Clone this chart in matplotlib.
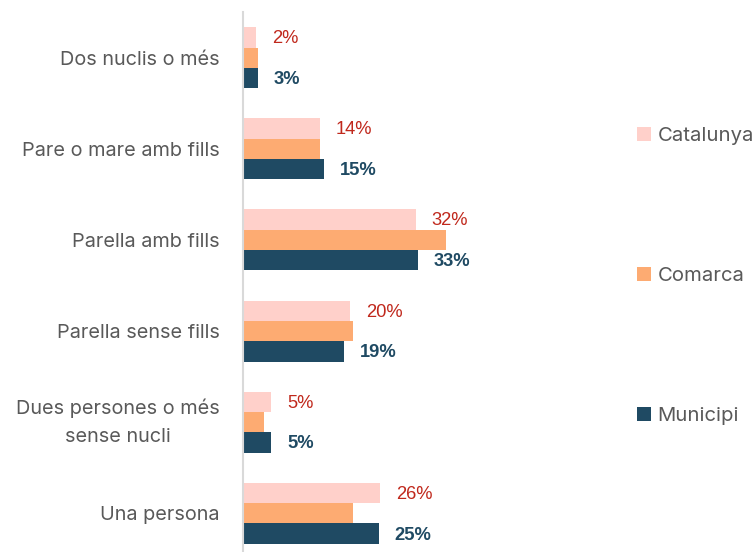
import matplotlib
matplotlib.use("Agg")
import matplotlib.pyplot as plt
import numpy as np

categories = ["Dos nuclis o més", "Pare o mare amb fills", "Parella amb fills",
              "Parella sense fills", "Dues persones o més\nsense nucli", "Una persona"]
catalunya = [2.4, 14.4, 32.3, 20.0, 5.3, 25.6]
comarca = [2.75, 14.3, 37.9, 20.5, 3.9, 20.6]
municipi = [2.8, 15.1, 32.7, 18.8, 5.3, 25.4]
cat_labels = ["2%", "14%", "32%", "20%", "5%", "26%"]
mun_labels = ["3%", "15%", "33%", "19%", "5%", "25%"]

W, H = 755, 552
fig = plt.figure(figsize=(W / 100, H / 100), dpi=100)
left_px, right_px = 243, 243 + 5.35 * 40
top_px, bot_px = 12.1, 558.9
ax = fig.add_axes([left_px / W, 1 - bot_px / H, (right_px - left_px) / W, (bot_px - top_px) / H])

c_cat, c_com, c_mun = "#FFD0CA", "#FDAB72", "#1F4A63"
y = np.arange(len(categories))
h = 0.223
b1 = ax.barh(y - h, catalunya, height=h, color=c_cat, label="Catalunya")
b2 = ax.barh(y, comarca, height=h, color=c_com, label="Comarca")
b3 = ax.barh(y + h, municipi, height=h, color=c_mun, label="Municipi")

for yi, v, t in zip(y, catalunya, cat_labels):
    ax.annotate(t, (v, yi - h), xytext=(11.5, -1), textcoords="offset points",
                ha="left", va="center", color="#C0281C", fontsize=13.2,
                family="Liberation Sans")
for yi, v, t in zip(y, municipi, mun_labels):
    ax.annotate(t, (v, yi + h), xytext=(11.5, -1), textcoords="offset points",
                ha="left", va="center", color=c_mun, fontsize=13.2,
                fontweight="bold", family="Liberation Sans")

ax.set_xlim(0, 40)
ax.set_ylim(len(categories) - 0.5, -0.5)
ax.set_yticks(y)
ax.set_yticklabels(categories, family="Inter", fontsize=14.3, color="#595959",
                   multialignment="center", linespacing=1.7)
for lab in ax.get_yticklabels():
    if "\n" in lab.get_text():
        lab.set_verticalalignment("center")
ax.tick_params(axis="y", length=0, pad=17)
ax.set_xticks([])
for s in ["top", "right", "bottom"]:
    ax.spines[s].set_visible(False)
ax.spines["left"].set_color("#D9D9D9")
ax.spines["left"].set_linewidth(1.5)
ax.spines["left"].set_clip_on(False)

leg = fig.legend(handles=[b1, b2, b3], labels=["Catalunya", "Comarca", "Municipi"],
                 loc="center left", bbox_to_anchor=(637 / W, 1 - 275.8 / H),
                 frameon=False, borderpad=0, borderaxespad=0,
                 handlelength=0.7, handleheight=0.7, handletextpad=0.3,
                 labelspacing=6.0, prop={"family": "Inter", "size": 14.6})
for t in leg.get_texts():
    t.set_color("#595959")

fig.savefig("out.png", dpi=100)
